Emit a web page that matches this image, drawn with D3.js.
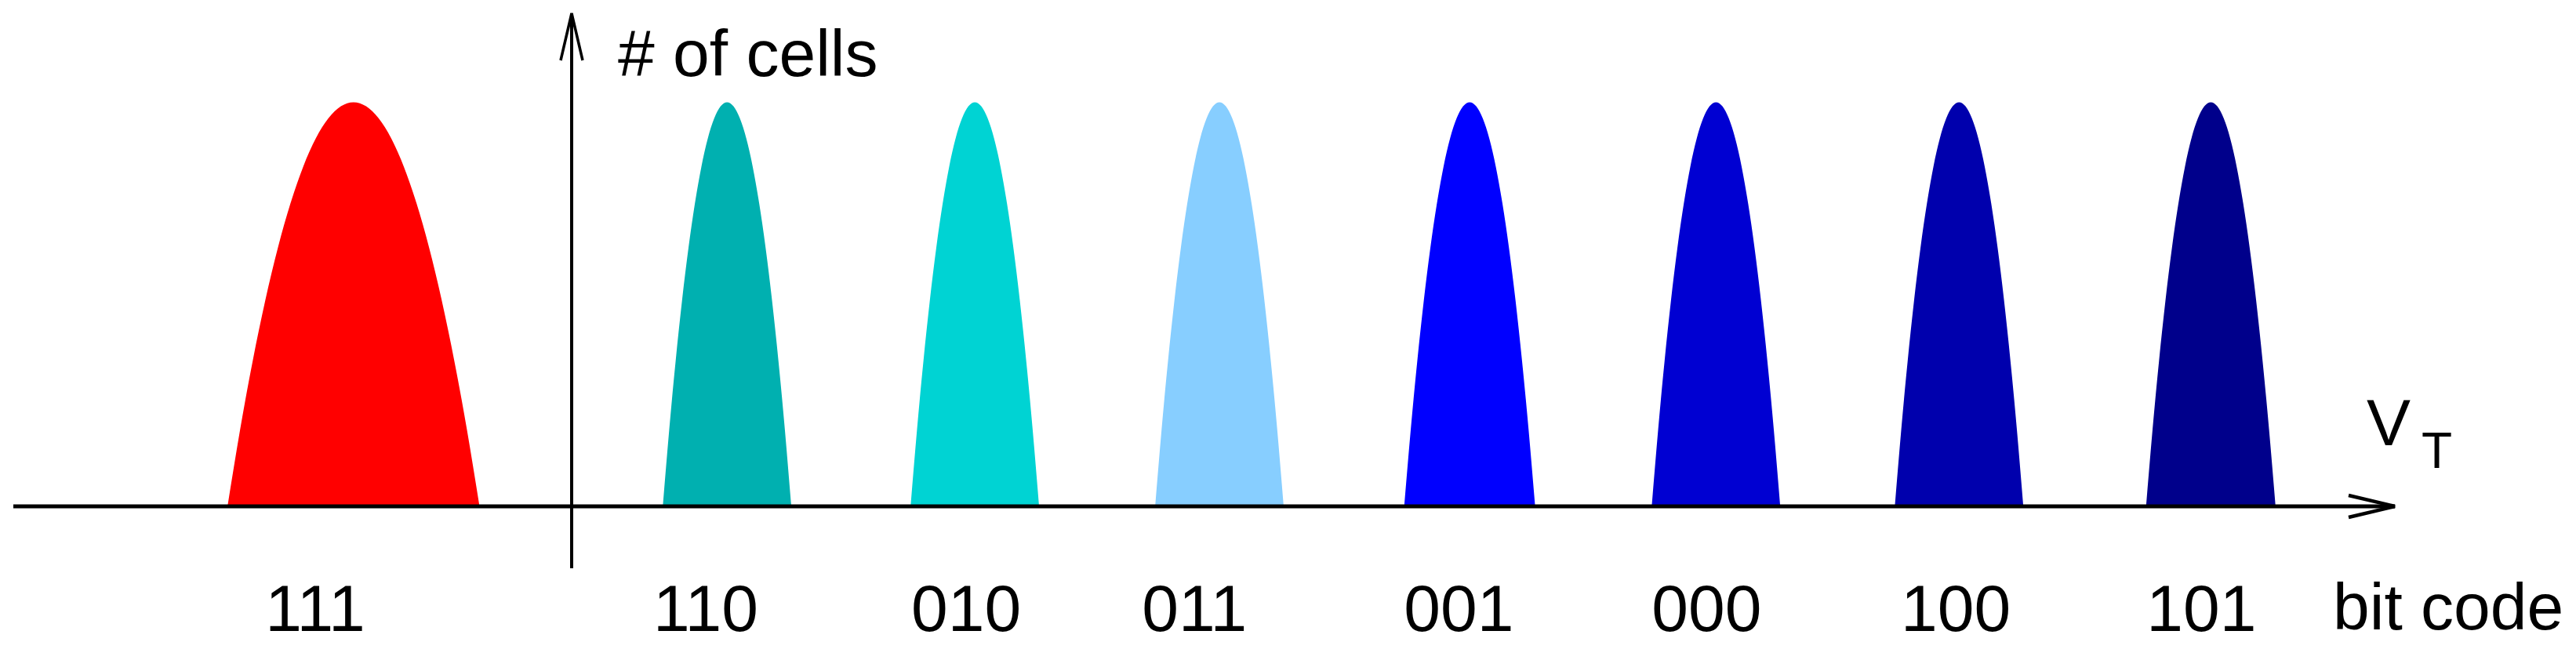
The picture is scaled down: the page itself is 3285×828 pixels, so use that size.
<!DOCTYPE html>
<html>
<head>
<meta charset="utf-8">
<script src="https://cdn.jsdelivr.net/npm/d3@7"></script>
<style>
  html, body { margin: 0; padding: 0; background: #fff; }
  svg { display: block; }
  text { font-family: "Liberation Sans", Arial, Helvetica, sans-serif; fill: #000; }
</style>
</head>
<body>
<svg id="chart" width="3285" height="828"></svg>
<script>
// ---- data (threshold-voltage units) ----
const codes       = ["111", "110", "010", "011", "001", "000", "100", "101"];
const peakCenters = [-0.883, 0.629, 1.632, 2.622, 3.635, 4.632, 5.616, 6.635];
const halfWidths  = [0.51, 0.26, 0.26, 0.26, 0.265, 0.26, 0.26, 0.262];
const peakHeights = [1, 1, 1, 1, 1, 1, 1, 1];
const labelPos    = [-1.038, 0.543, 1.597, 2.521, 3.591, 4.594, 5.603, 6.597];
const colors      = ["#ff0000", "#00b0b0", "#00d3d3", "#87ceff", "#0000ff", "#0000d2", "#0000ad", "#00008b"];
// normalised distribution profile (relative offsets -1 … 1 in steps of 0.1)
const profileOffsets = [-1, -0.9, -0.8, -0.7, -0.6, -0.5, -0.4, -0.3, -0.2, -0.1, 0,
                        0.1, 0.2, 0.3, 0.4, 0.5, 0.6, 0.7, 0.8, 0.9, 1];
const profileHeights = [0, 0.19, 0.36, 0.51, 0.64, 0.75, 0.84, 0.91, 0.96, 0.99, 1,
                        0.99, 0.96, 0.91, 0.84, 0.75, 0.64, 0.51, 0.36, 0.19, 0];
const xDomain = [-2.26, 7.38];
const yDomain = [0, 1.22];

// ---- layout ----
const svg = d3.select("#chart");
const x = d3.scaleLinear().domain(xDomain).range([17, 3054]);
const y = d3.scaleLinear().domain(yDomain).range([646, 17]);

// ---- distributions ----
const area = d3.area()
  .x(d => x(d[0]))
  .y0(y(0))
  .y1(d => y(d[1]))
  .curve(d3.curveNatural);

codes.forEach((c, i) => {
  const pts = profileOffsets.map((u, k) => [peakCenters[i] + u * halfWidths[i], profileHeights[k] * peakHeights[i]]);
  svg.append("path")
    .attr("d", area(pts))
    .attr("fill", colors[i]);
});

// ---- axes ----
const ax = svg.append("g").attr("stroke", "#000").attr("fill", "none").attr("stroke-linecap", "butt");
// x axis
ax.append("line")
  .attr("x1", x(xDomain[0])).attr("x2", x(xDomain[1]))
  .attr("y1", y(0)).attr("y2", y(0))
  .attr("stroke-width", 5);
ax.append("path")
  .attr("d", `M${x(xDomain[1]) - 59},${y(0) - 14} L${x(xDomain[1])},${y(0)} L${x(xDomain[1]) - 59},${y(0) + 14}`)
  .attr("stroke-width", 4.5);
// y axis
ax.append("line")
  .attr("x1", x(0)).attr("x2", x(0))
  .attr("y1", 725).attr("y2", y(yDomain[1]))
  .attr("stroke-width", 4);
ax.append("path")
  .attr("d", `M${x(0) - 14},${y(yDomain[1]) + 60} L${x(0)},${y(yDomain[1])} L${x(0) + 14},${y(yDomain[1]) + 60}`)
  .attr("stroke-width", 3.5);

// ---- bit code labels ----
svg.append("g").selectAll("text")
  .data(codes)
  .join("text")
  .attr("x", (d, i) => x(labelPos[i]))
  .attr("y", 805)
  .attr("text-anchor", "middle")
  .attr("font-size", 84)
  .text(d => d);

svg.append("text")
  .attr("x", 2975).attr("y", 803)
  .attr("font-size", 84)
  .text("bit code");

// axis titles
svg.append("text")
  .attr("x", 788).attr("y", 97)
  .attr("font-size", 84)
  .text("# of cells");

svg.append("text").attr("x", 3018).attr("y", 568).attr("font-size", 84).text("V");
svg.append("text").attr("x", 3088).attr("y", 597).attr("font-size", 64).text("T");
</script>
</body>
</html>
